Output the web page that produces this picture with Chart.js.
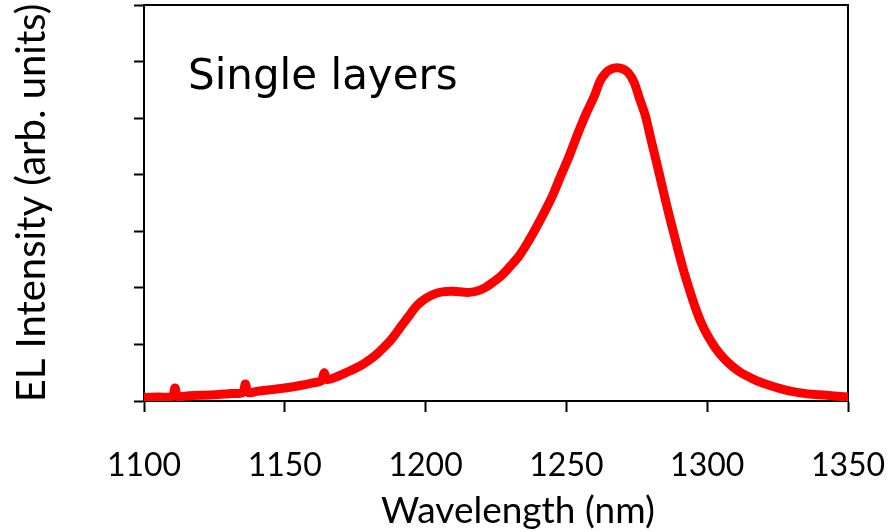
<!doctype html>
<html lang="en">
  <head>
    <meta charset="utf-8">
    <title>EL spectrum - single layers</title>
    <style>
      * {
        margin: 0;
        padding: 0;
      }
      body {
        background: white;
      }
      .chartBox {
        width: 894px;
        height: 532px;
      }
    </style>
  </head>
  <body>
    <div class="chartBox">
      <canvas id="myChart" width="894" height="532"></canvas>
    </div>
    <script src="https://cdn.jsdelivr.net/npm/chart.js"></script>
    <script>
    // setup
    const wavelength = [
      1100, 1105, 1110, 1111, 1112, 1115, 1120, 1125, 1130, 1135, 1136, 1137,
      1140, 1145, 1150, 1155, 1160, 1163, 1164, 1165, 1168, 1170, 1173, 1176,
      1179, 1182, 1185, 1188, 1191, 1194, 1197, 1200, 1203, 1206, 1209, 1212,
      1215, 1218, 1221, 1224, 1227, 1230, 1233, 1236, 1239, 1242, 1245, 1248,
      1251, 1254, 1257, 1260, 1262, 1264, 1266, 1268, 1270, 1272, 1274, 1276,
      1278, 1280, 1282, 1284, 1286, 1288, 1290, 1292, 1294, 1296, 1298, 1300,
      1303, 1306, 1309, 1312, 1315, 1318, 1322, 1326, 1330, 1335, 1340, 1345, 1350
    ];
    const intensity = [
      0.06, 0.07, 0.08, 0.23, 0.08, 0.09, 0.10, 0.11, 0.13, 0.15, 0.30, 0.15,
      0.17, 0.20, 0.23, 0.27, 0.32, 0.36, 0.50, 0.38, 0.42, 0.46, 0.53, 0.60,
      0.69, 0.80, 0.94, 1.10, 1.30, 1.50, 1.69, 1.81, 1.89, 1.93, 1.94, 1.93,
      1.92, 1.94, 2.00, 2.10, 2.22, 2.38, 2.55, 2.78, 3.04, 3.32, 3.62, 3.98,
      4.33, 4.72, 5.08, 5.40, 5.66, 5.80, 5.87, 5.89, 5.87, 5.80, 5.64, 5.34,
      5.05, 4.63, 4.22, 3.80, 3.38, 2.99, 2.60, 2.24, 1.92, 1.62, 1.37, 1.17,
      0.93, 0.75, 0.61, 0.50, 0.42, 0.35, 0.28, 0.22, 0.17, 0.13, 0.11, 0.09, 0.07
    ];
    const xTicks = [1100, 1150, 1200, 1250, 1300, 1350];
    const yTicks = [0, 1, 2, 3, 4, 5, 6, 7];

    const points = wavelength.map((w, i) => ({ x: w, y: intensity[i] }));

    const data = {
      datasets: [{
        label: 'Single layers',
        data: points,
        borderColor: '#ff0000',
        borderWidth: 9,
        borderCapStyle: 'round',
        borderJoinStyle: 'round',
        pointRadius: 0,
        tension: 0.3,
        fill: false
      }]
    };

    // texts drawn on the canvas
    const labelsPlugin = {
      id: 'labels',
      afterDraw(chart) {
        const ctx = chart.ctx;
        ctx.save();
        ctx.fillStyle = '#000';
        ctx.textBaseline = 'alphabetic';
        ctx.font = '42px "DejaVu Sans"';
        ctx.textAlign = 'left';
        ctx.fillText('Single layers', 188, 89);
        ctx.font = '37px Lato';
        ctx.textAlign = 'center';
        ctx.fillText('Wavelength (nm)', 518, 523);
        ctx.restore();
      }
    };

    const axisLine = { display: true, color: '#000', width: 2 };

    // config
    const config = {
      type: 'line',
      data,
      options: {
        responsive: false,
        animation: false,
        layout: { padding: { top: 5, right: 46, left: 0, bottom: 0 } },
        plugins: {
          legend: { display: false },
          tooltip: { enabled: false }
        },
        scales: {
          x: {
            type: 'linear',
            min: 1100,
            max: 1350,
            afterBuildTicks: s => { s.ticks = xTicks.map(v => ({ value: v })); },
            afterFit: s => { s.height = 131; s.paddingLeft = 0; s.paddingRight = 0; },
            border: axisLine,
            grid: { drawOnChartArea: false, tickLength: 11, tickColor: '#000', tickWidth: 2 },
            ticks: {
              padding: 34,
              color: '#000',
              font: { family: 'Lato', size: 32 },
              callback: v => String(v)
            }
          },
          y: {
            min: 0,
            max: 7,
            afterBuildTicks: s => { s.ticks = yTicks.map(v => ({ value: v })); },
            afterFit: s => { s.width = 144; s.paddingTop = 0; s.paddingBottom = 0; },
            border: axisLine,
            grid: { drawOnChartArea: false, tickLength: 10, tickColor: '#000', tickWidth: 2 },
            ticks: { display: false },
            title: {
              display: true,
              text: 'EL Intensity (arb. units)',
              color: '#000',
              font: { family: 'Lato', size: 40 },
              padding: { top: 8, bottom: 0 }
            }
          },
          x2: {
            type: 'linear',
            position: 'top',
            min: 1100,
            max: 1350,
            afterFit: s => { s.height = 0; s.paddingLeft = 0; s.paddingRight = 0; },
            border: axisLine,
            grid: { display: false, drawTicks: false },
            ticks: { display: false }
          },
          y2: {
            position: 'right',
            min: 0,
            max: 7,
            afterFit: s => { s.width = 0; s.paddingTop = 0; s.paddingBottom = 0; },
            border: axisLine,
            grid: { display: false, drawTicks: false },
            ticks: { display: false }
          }
        }
      },
      plugins: [labelsPlugin]
    };

    // render init block
    const myChart = new Chart(
      document.getElementById('myChart'),
      config
    );
    </script>
  </body>
</html>
